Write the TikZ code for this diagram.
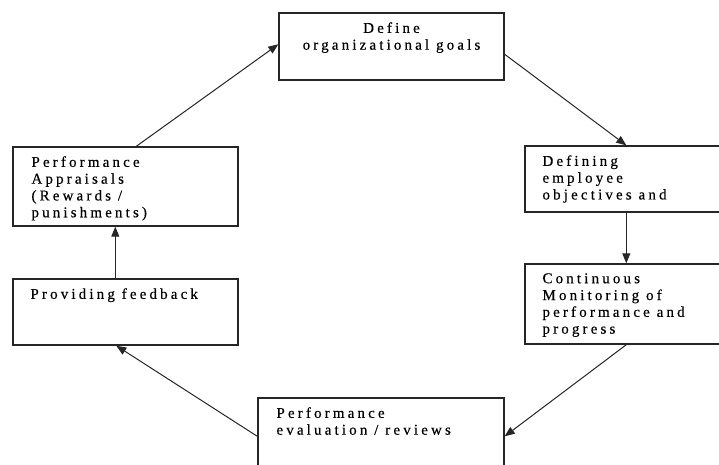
\documentclass[tikz,border=0pt]{standalone}
\usepackage{fontspec}
\setmainfont{Liberation Serif}[LetterSpace=21, FakeBold=0.4]
\usetikzlibrary{arrows.meta}

\begin{document}
\begin{tikzpicture}[x=1pt,y=-1pt,
  box/.style={draw=black!85, line width=1.4pt, inner sep=0pt},
  txt/.style={font=\fontsize{15}{16.8}\selectfont, inner sep=0pt, align=left, anchor=north west},
  conn/.style={draw=black!85, line width=1pt, -{Triangle[length=10pt,width=8pt]}}]

  % canvas
  \clip (0,0) rectangle (719,464);
  \fill[white] (0,0) rectangle (719,464);

  % boxes of the cycle
  \node[box, minimum width=225pt, minimum height=67pt] (b1) at (391.5,46.5) {};
  \node[box, minimum width=235pt, minimum height=66pt] (b2) at (642.5,179) {};
  \node[box, minimum width=235pt, minimum height=80pt] (b3) at (642.5,304) {};
  \node[box, minimum width=246pt, minimum height=92pt] (b4) at (381,444) {};
  \node[box, minimum width=225pt, minimum height=66pt] (b5) at (125.5,312) {};
  \node[box, minimum width=225pt, minimum height=79pt] (b6) at (125.5,186.5) {};

  % box texts
  \node[txt, align=center, anchor=north] (t1) at ([yshift=-9.8pt]b1.north) {Define\\organizational goals};
  \node[txt] (t2) at ([xshift=18pt,yshift=-9.8pt]b2.north west) {Defining\\employee\\objectives and};
  \node[txt] (t3) at ([xshift=18pt,yshift=-9.8pt]b3.north west) {Continuous\\Monitoring of\\performance and\\progress};
  \node[txt] (t4) at ([xshift=19pt,yshift=-9.8pt]b4.north west) {Performance\\evaluation / reviews};
  \node[txt] (t5) at ([xshift=18pt,yshift=-9.8pt]b5.north west) {Providing feedback};
  \node[txt] (t6) at ([xshift=19pt,yshift=-9.8pt]b6.north west) {Performance\\Appraisals\\(Rewards /\\punishments)};

  % connectors
  \draw[conn] ([yshift=-42pt]b1.north east) -- ([xshift=102pt]b2.north west);
  \draw[conn] ([xshift=102pt]b2.south west) -- ([xshift=102pt]b3.north west);
  \draw[conn] ([xshift=102pt]b3.south west) -- ([yshift=-39pt]b4.north east);
  \draw[conn] ([yshift=-39pt]b4.north west) -- ([xshift=104pt]b5.south west);
  \draw[conn] ([xshift=103pt]b5.north west) -- ([xshift=103pt]b6.south west);
  \draw[conn] ([xshift=124pt]b6.north west) -- ([yshift=-32pt]b1.north west);
\end{tikzpicture}
\end{document}
